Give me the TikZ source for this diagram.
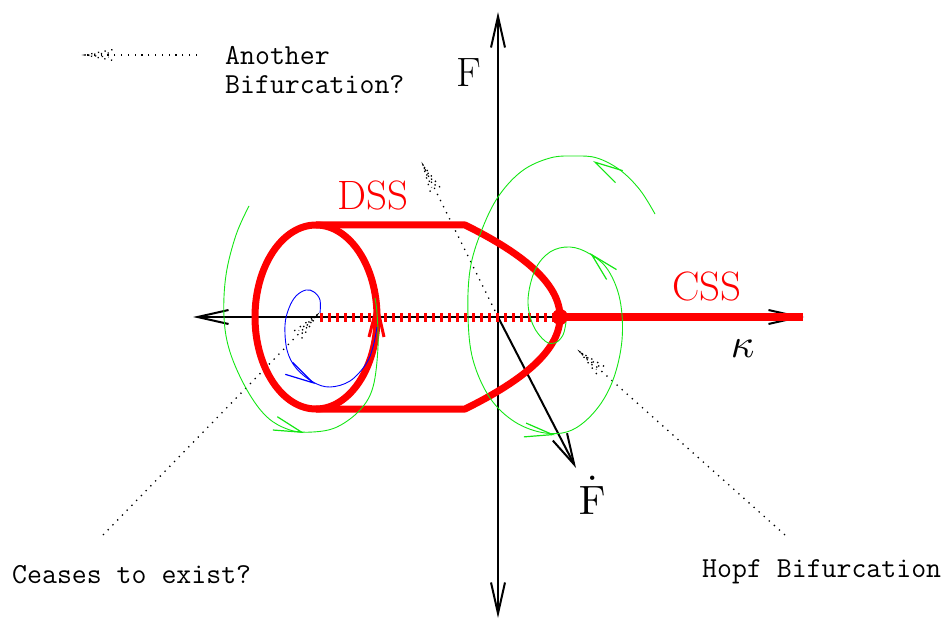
\documentclass[tikz,border=0pt]{standalone}
\usetikzlibrary{arrows.meta,calc}
\definecolor{gr}{RGB}{20,230,20}
\begin{document}
\begin{tikzpicture}[x=1pt,y=-1pt,
  axis/.style={line width=2pt, black},
  axbarb/.tip={Straight Barb[length=31pt,width=14pt]},
  dss/.style={red, line width=7pt},
  traj/.style={gr, line width=0.9pt},
  btraj/.style={blue, line width=0.9pt},
  gtip/.style={gr, line width=1.2pt, -{Straight Barb[length=28pt,width=14pt]}},
  btip/.style={blue, line width=1.2pt, -{Straight Barb[length=28pt,width=14pt]}},
  ptr/.style={black, line width=1.3pt, dash pattern=on 1.3pt off 5.5pt},
  note/.style={font=\fontsize{29}{31}\selectfont\ttfamily, inner sep=0pt, anchor=base west},
  big/.style={font=\fontsize{41}{44}\selectfont, inner sep=0pt, anchor=base west},
  bigm/.style={font=\normalsize, scale=4.1, inner sep=0pt, anchor=base west},
]
\useasboundingbox (0,0) rectangle (947,620);
% coordinates
\coordinate (O) at (498,317);
\coordinate (Ftop) at (498,12);
\coordinate (Fbot) at (498,618);
\coordinate (Kl) at (193,317);
\coordinate (Kr) at (804,317);
\coordinate (Fd) at (576,468);
\coordinate (C) at (316,317);
\coordinate (H) at (560,317);
% axes
\draw[axis, axbarb-axbarb] (Fbot) -- (Ftop);
\draw[axis, axbarb-axbarb] (Kl) -- (Kr);
\draw[axis, -{Straight Barb[length=31pt,width=16pt]}] (O) -- (Fd);
% dotted pointers
\coordinate (p1s) at (197,55);  \coordinate (p1t) at (85,55);
\coordinate (p2t) at (423,165);
\coordinate (p3s) at (103,535); \coordinate (p3t) at (317,315);
\coordinate (p4s) at (785,535); \coordinate (p4t) at (580,352);
\foreach \s/\t in {p1s/p1t, O/p2t, p3s/p3t, p4s/p4t}{
  \draw[ptr] (\s) -- (\t);
  \draw[ptr] ($(\t)!28pt!11:(\s)$) -- (\t) -- ($(\t)!28pt!-11:(\s)$);
  \draw[ptr] ($(\t)!24pt!5:(\s)$) -- (\t) -- ($(\t)!24pt!-5:(\s)$);
}
% red unstable branch (dashed)
\draw[red, line width=9pt, dash pattern=on 3pt off 5pt] ([xshift=4pt]C) -- (H);
% DSS outline
\draw[dss, line join=round] (316,225) -- (465,225) .. controls (528,256) and (560,286) .. (H)
   .. controls (560,348) and (528,378) .. (465,409) -- (316,409);
\draw[dss] (C) ellipse [x radius=61pt, y radius=92pt];
\draw[red, line width=3pt, line join=miter] (369,337) -- (377,306) -- (384,337);
% CSS
\draw[red, line width=8pt] (H) -- (803,317);
\fill[red] (H) circle[radius=8pt];
% green trajectories
\draw[traj] plot[smooth, tension=0.6] coordinates {(249,206) (236,235) (226,275) (224,317) (230,352) (247,390) (267,417) (290,430) (313,432) (337,427) (360,410) (373,387) (378,347) (377,313) (375,298)};
\draw[gtip] (298,431) -- (304,433);
\draw[traj] plot[smooth, tension=0.6] coordinates {(655,214) (640,190) (620,170) (597,158) (575,156) (550,158) (522,171) (498,197) (481,232) (470,270) (468,317) (473,360) (490,398) (515,422) (545,433) (572,430) (596,410) (613,380) (622,340) (620,300) (608,270) (590,254) (570,247) (550,252) (535,270) (528,300) (533,325) (545,341) (555,343) (563,335) (566,322)};
\draw[gtip] (598,164) -- (593,161);
\draw[gtip] (595,258) -- (590,253);
\draw[gtip] (549,434) -- (555,435);
% blue trajectory
\draw[btraj] plot[smooth, tension=0.6] coordinates {(320,313) (320,300) (314,292) (306,290) (296,296) (289,308) (285,325) (287,350) (296,368) (313,382) (330,387) (350,381) (366,364) (373,347) (377,327)};
\draw[btip] (310,381) -- (315,384);
% labels
\node[big] (lF) at (456,87) {F};
\node[bigm] (lFd) at (578,514) {$\dot{\mathrm{F}}$};
\node[bigm] (lk) at (730,357) {$\kappa$};
\node[big, text=red] (lDSS) at (337,210) {DSS};
\node[big, text=red] (lCSS) at (672,300) {CSS};
\node[note] (nA1) at (225,65) {Another};
\node[note] (nA2) at (225,94) {Bifurcation?};
\node[note] (nC) at (12,583) {Ceases to exist?};
\node[note] (nH) at (702,577) {Hopf Bifurcation};
\end{tikzpicture}
\end{document}
